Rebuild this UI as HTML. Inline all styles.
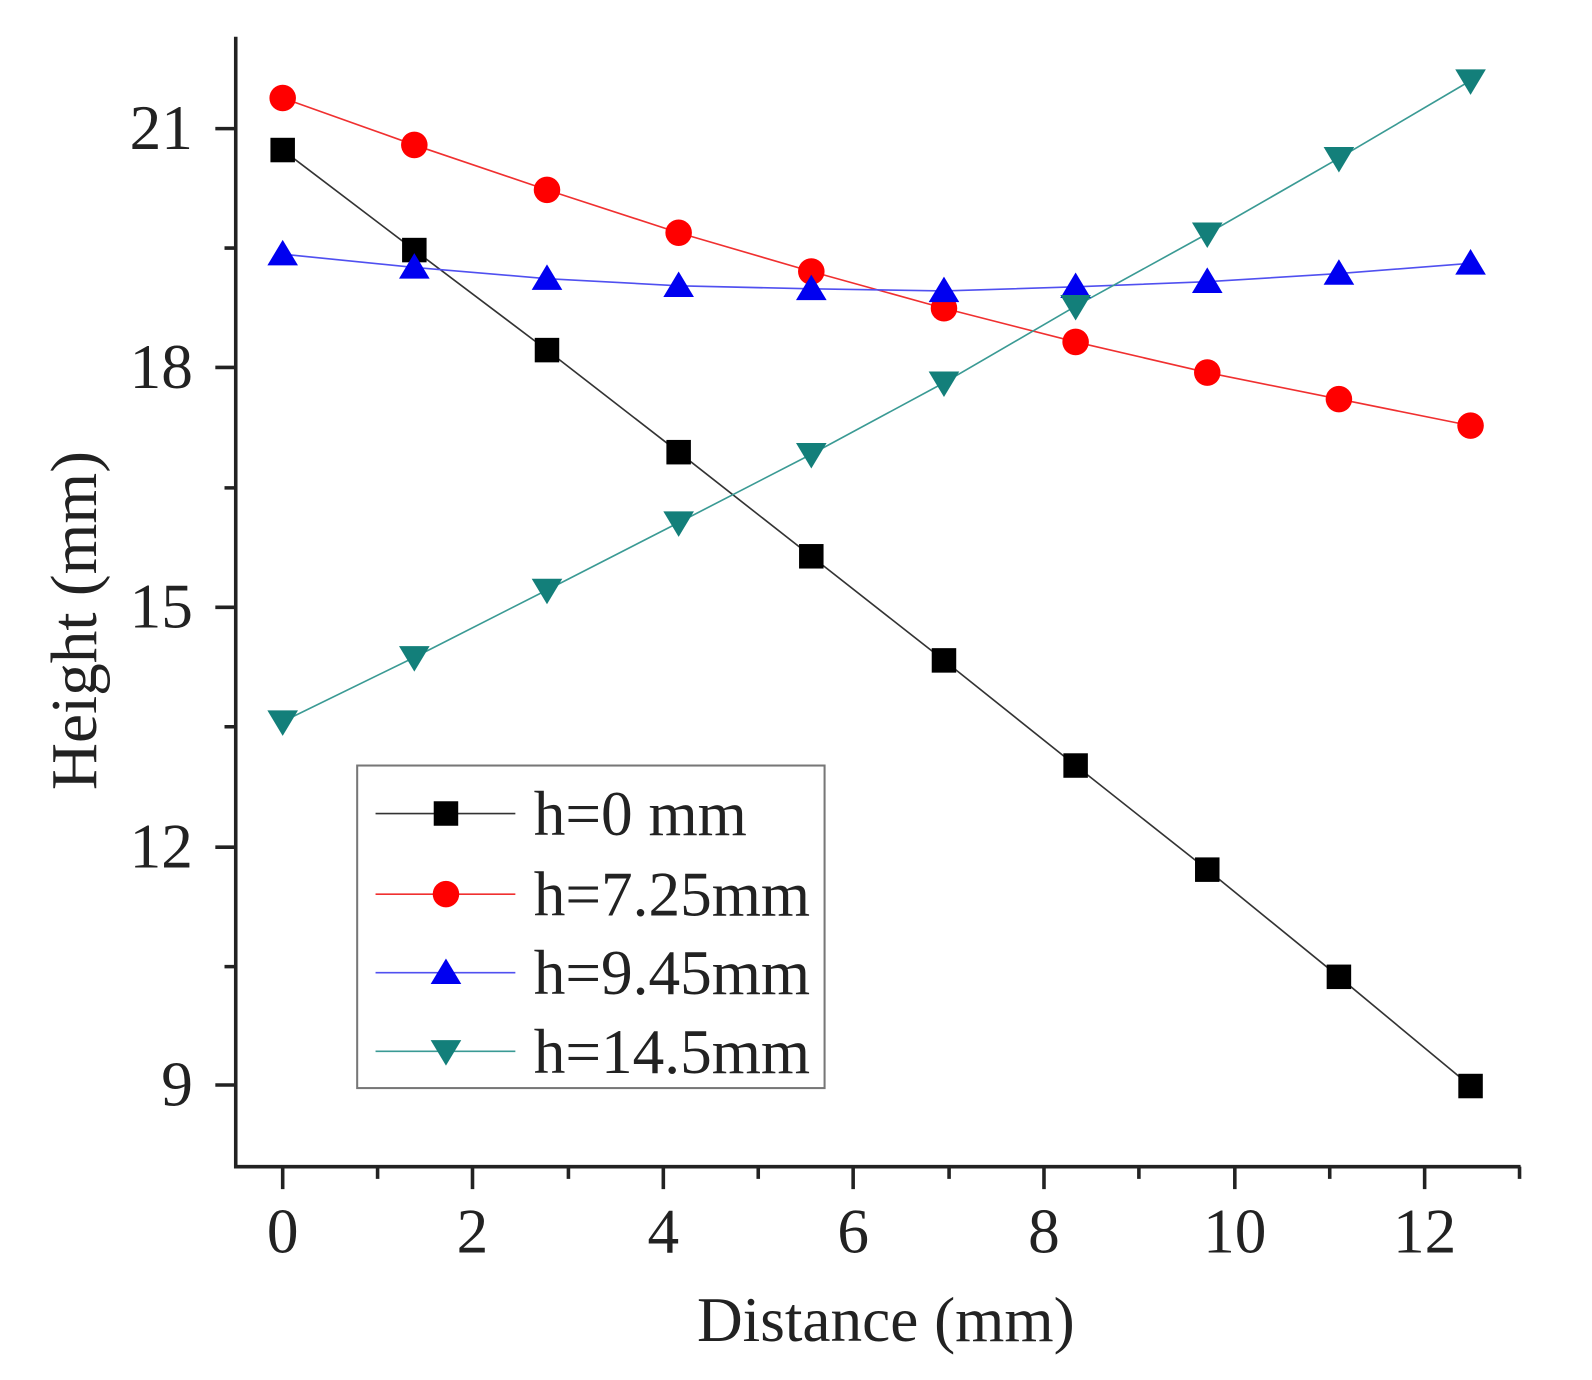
<!DOCTYPE html>
<html><head><meta charset="utf-8"><style>html,body{margin:0;padding:0;background:#fff}svg{display:block}</style></head>
<body>
<svg width="1592" height="1380" viewBox="0 0 1560 1352" preserveAspectRatio="none" xmlns="http://www.w3.org/2000/svg" font-family="Liberation Serif, serif">
<rect width="1560" height="1352" fill="#fff"/>
<g stroke="#222" stroke-width="3.5" fill="none">
<path d="M231 36 V1143 H1490"/>
<path d="M277 1143v22M463 1143v22M650 1143v22M836 1143v22M1023 1143v22M1210 1143v22M1396 1143v22"/>
<path d="M370 1143v12M557 1143v12M743 1143v12M930 1143v12M1116 1143v12M1303 1143v12M1489 1143v12"/>
<path d="M231 126h-20M231 360h-20M231 595h-20M231 830h-20M231 1063h-20"/>
<path d="M231 243h-11M231 478h-11M231 712h-11M231 947h-11"/>
</g>
<g font-size="62" fill="#222" text-anchor="middle">
<text x="277" y="1227">0</text><text x="463" y="1227">2</text><text x="650" y="1227">4</text><text x="836" y="1227">6</text><text x="1023" y="1227">8</text><text x="1210" y="1227">10</text><text x="1396" y="1227">12</text>
</g>
<g font-size="62" fill="#222" text-anchor="end">
<text x="189" y="146">21</text><text x="189" y="380">18</text><text x="189" y="615">15</text><text x="189" y="850">12</text><text x="189" y="1083">9</text>
</g>
<text x="868" y="1314" font-size="62" fill="#222" text-anchor="middle">Distance (mm)</text>
<text transform="translate(94,608) rotate(-90)" font-size="64" fill="#222" text-anchor="middle">Height (mm)</text>
<g fill="none" stroke-width="1.6">
<polyline stroke="#333" points="277,147 406,245 536,343 665,443 795,545 925,647 1054,750 1183,852 1312,957 1441,1064"/>
<polyline stroke="#f03030" points="277,96 406,142 536,186 665,228 795,266 925,302 1054,335 1183,365 1312,391 1441,417"/>
<polyline stroke="#5050f0" points="277,249 406,262 536,273 665,280 795,283 925,285 1054,281 1183,276 1312,268 1441,258"/>
<polyline stroke="#3a9a94" points="277,707 406,644 536,578 665,512 795,445 925,375 1054,300 1183,229 1312,155 1441,79"/>
</g>
<g fill="#000">
<rect x="265" y="135" width="24" height="24"/><rect x="394" y="233" width="24" height="24"/><rect x="524" y="331" width="24" height="24"/><rect x="653" y="431" width="24" height="24"/><rect x="783" y="533" width="24" height="24"/><rect x="913" y="635" width="24" height="24"/><rect x="1042" y="738" width="24" height="24"/><rect x="1171" y="840" width="24" height="24"/><rect x="1300" y="945" width="24" height="24"/><rect x="1429" y="1052" width="24" height="24"/>
</g>
<g fill="#f00">
<circle cx="277" cy="96" r="13"/><circle cx="406" cy="142" r="13"/><circle cx="536" cy="186" r="13"/><circle cx="665" cy="228" r="13"/><circle cx="795" cy="266" r="13"/><circle cx="925" cy="302" r="13"/><circle cx="1054" cy="335" r="13"/><circle cx="1183" cy="365" r="13"/><circle cx="1312" cy="391" r="13"/><circle cx="1441" cy="417" r="13"/>
</g>
<g fill="#0000f0">
<path d="M277 235l15 25h-30z"/><path d="M406 248l15 25h-30z"/><path d="M536 259l15 25h-30z"/><path d="M665 266l15 25h-30z"/><path d="M795 269l15 25h-30z"/><path d="M925 271l15 25h-30z"/><path d="M1054 267l15 25h-30z"/><path d="M1183 262l15 25h-30z"/><path d="M1312 254l15 25h-30z"/><path d="M1441 244l15 25h-30z"/>
</g>
<g fill="#137f7a">
<path d="M277 721l15-25h-30z"/><path d="M406 658l15-25h-30z"/><path d="M536 592l15-25h-30z"/><path d="M665 526l15-25h-30z"/><path d="M795 459l15-25h-30z"/><path d="M925 389l15-25h-30z"/><path d="M1054 314l15-25h-30z"/><path d="M1183 243l15-25h-30z"/><path d="M1312 169l15-25h-30z"/><path d="M1441 93l15-25h-30z"/>
</g>
<rect x="350" y="750" width="458" height="316" fill="#fff" stroke="#777" stroke-width="2"/>
<g stroke-width="1.6">
<line x1="368" y1="797" x2="505" y2="797" stroke="#333"/>
<line x1="368" y1="876" x2="505" y2="876" stroke="#f03030"/>
<line x1="368" y1="953" x2="505" y2="953" stroke="#5050f0"/>
<line x1="368" y1="1030" x2="505" y2="1030" stroke="#3a9a94"/>
</g>
<rect x="425" y="785" width="24" height="24" fill="#000"/>
<circle cx="437" cy="876" r="13" fill="#f00"/>
<path d="M437 939l15 25h-30z" fill="#0000f0"/>
<path d="M437 1044l15-25h-30z" fill="#137f7a"/>
<g font-size="62" fill="#222">
<text x="523" y="818">h=0 mm</text>
<text x="523" y="897">h=7.25mm</text>
<text x="523" y="974">h=9.45mm</text>
<text x="523" y="1051">h=14.5mm</text>
</g>
</svg>
</body></html>
